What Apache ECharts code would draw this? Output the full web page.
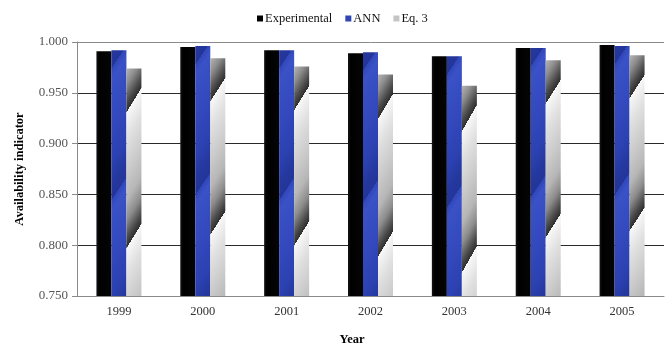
<!DOCTYPE html>
<html>
<head>
<meta charset="utf-8">
<script src="https://cdn.jsdelivr.net/npm/echarts@6/dist/echarts.min.js"></script>
<style>
  html, body { margin: 0; padding: 0; background: #fff; }
  #chart { width: 670px; height: 351px; }
</style>
</head>
<body>
<div id="chart"></div>
<script>
// Availability indicator per year: measured values vs. ANN and Eq. 3 predictions
const years = ['1999', '2000', '2001', '2002', '2003', '2004', '2005'];
const experimental = [0.991, 0.995, 0.992, 0.989, 0.986, 0.994, 0.997];
const ann = [0.992, 0.996, 0.992, 0.990, 0.986, 0.994, 0.996];
const eq3 = [0.974, 0.984, 0.976, 0.968, 0.957, 0.982, 0.987];
const yTicks = [0.75, 0.80, 0.85, 0.90, 0.95, 1.00];

const FONT = '"Liberation Serif", "Times New Roman", serif';

// Slanted sawtooth shading along a diagonal gradient (relative to each bar).
// `ramp` lists [fraction of period, colour]; the colour steps back to the
// first entry at every slanted edge.
function sawtooth(ramp, period, offset) {
  const stops = [];
  const start = offset - period * Math.ceil(offset / period);
  for (let p = start; p < 1; p += period) {
    ramp.forEach(([f, col]) => {
      stops.push({ offset: p + f * period, color: col });
    });
  }
  const out = [];
  for (let i = 0; i < stops.length; i++) {
    const s = stops[i];
    if (s.offset < 0) {
      const n = stops[i + 1];
      if (n && n.offset > 0) out.push({ offset: 0, color: s.color });
      continue;
    }
    if (s.offset > 1) { out.push({ offset: 1, color: s.color }); break; }
    out.push(s);
  }
  return new echarts.graphic.LinearGradient(0, 0, 24.7, 1, out);
}

const PERIOD = 0.1636;
const EDGE = 0.053;

const grayFill = sawtooth([
  [0.000, '#f8f8f8'],
  [0.200, '#e0e0e0'],
  [0.450, '#cacaca'],
  [0.650, '#b6b6b6'],
  [0.800, '#8c8c8c'],
  [0.930, '#4a4a4a'],
  [0.999, '#2e2e2e']
], PERIOD, EDGE);

const blueFill = sawtooth([
  [0.000, '#3047ba'],
  [0.080, '#3a52c6'],
  [0.400, '#3349bd'],
  [0.700, '#2c42b2'],
  [0.880, '#25389f'],
  [0.999, '#243599']
], PERIOD, EDGE - 0.03);

const blackFill = new echarts.graphic.LinearGradient(0, 0, 1, 0, [
  { offset: 0, color: '#141414' },
  { offset: 0.2, color: '#000000' },
  { offset: 1, color: '#050505' }
]);

const chart = echarts.init(document.getElementById('chart'), null, { renderer: 'canvas' });

chart.setOption({
  animation: false,
  backgroundColor: '#ffffff',
  textStyle: { fontFamily: FONT },
  legend: {
    top: 7,
    left: 252,
    itemWidth: 6,
    itemHeight: 6,
    itemGap: 13,
    icon: 'rect',
    textStyle: { fontFamily: FONT, fontSize: 12.5, color: '#111', padding: [0, 0, 0, -3] },
    data: [
      { name: 'Experimental', itemStyle: { color: '#000' } },
      { name: 'ANN', itemStyle: { color: '#2f45b5' } },
      { name: 'Eq. 3', itemStyle: { color: '#c4c4c4' } }
    ]
  },
  grid: { left: 77, right: 6, top: 42, bottom: 50, containLabel: false },
  xAxis: {
    type: 'category',
    data: years,
    name: 'Year',
    nameLocation: 'middle',
    nameGap: 37,
    nameTextStyle: { fontFamily: FONT, fontSize: 12.5, fontWeight: 'bold', color: '#000', padding: [0, 37, 0, 0] },
    axisLine: { lineStyle: { color: '#8a8a8a', width: 1 } },
    axisTick: { show: false },
    axisLabel: { fontFamily: FONT, fontSize: 12.5, color: '#333', margin: 9 }
  },
  yAxis: {
    type: 'value',
    min: yTicks[0],
    max: yTicks[yTicks.length - 1],
    interval: 0.05,
    name: 'Availability indicator',
    nameLocation: 'middle',
    nameGap: 51,
    nameTextStyle: { fontFamily: FONT, fontSize: 12.5, fontWeight: 'bold', color: '#000' },
    axisLine: { show: true, lineStyle: { color: '#8a8a8a', width: 1 } },
    axisTick: { show: true, length: 5, lineStyle: { color: '#8a8a8a' } },
    axisLabel: {
      fontFamily: FONT, fontSize: 13, color: '#555', margin: 9,
      formatter: v => v.toFixed(3)
    },
    splitLine: {
      show: true,
      lineStyle: { color: ['#8a8a8a', '#2a2a2a', '#2a2a2a', '#2a2a2a', '#2a2a2a', '#8a8a8a'], width: 1 }
    }
  },
  series: [
    {
      name: 'Experimental', type: 'bar', data: experimental,
      barWidth: 15, barGap: '0%',
      itemStyle: { color: blackFill }
    },
    {
      name: 'ANN', type: 'bar', data: ann,
      barWidth: 15, barGap: '0%',
      itemStyle: { color: blueFill }
    },
    {
      name: 'Eq. 3', type: 'bar', data: eq3,
      barWidth: 15, barGap: '0%',
      itemStyle: { color: grayFill }
    }
  ]
});
</script>
</body>
</html>
